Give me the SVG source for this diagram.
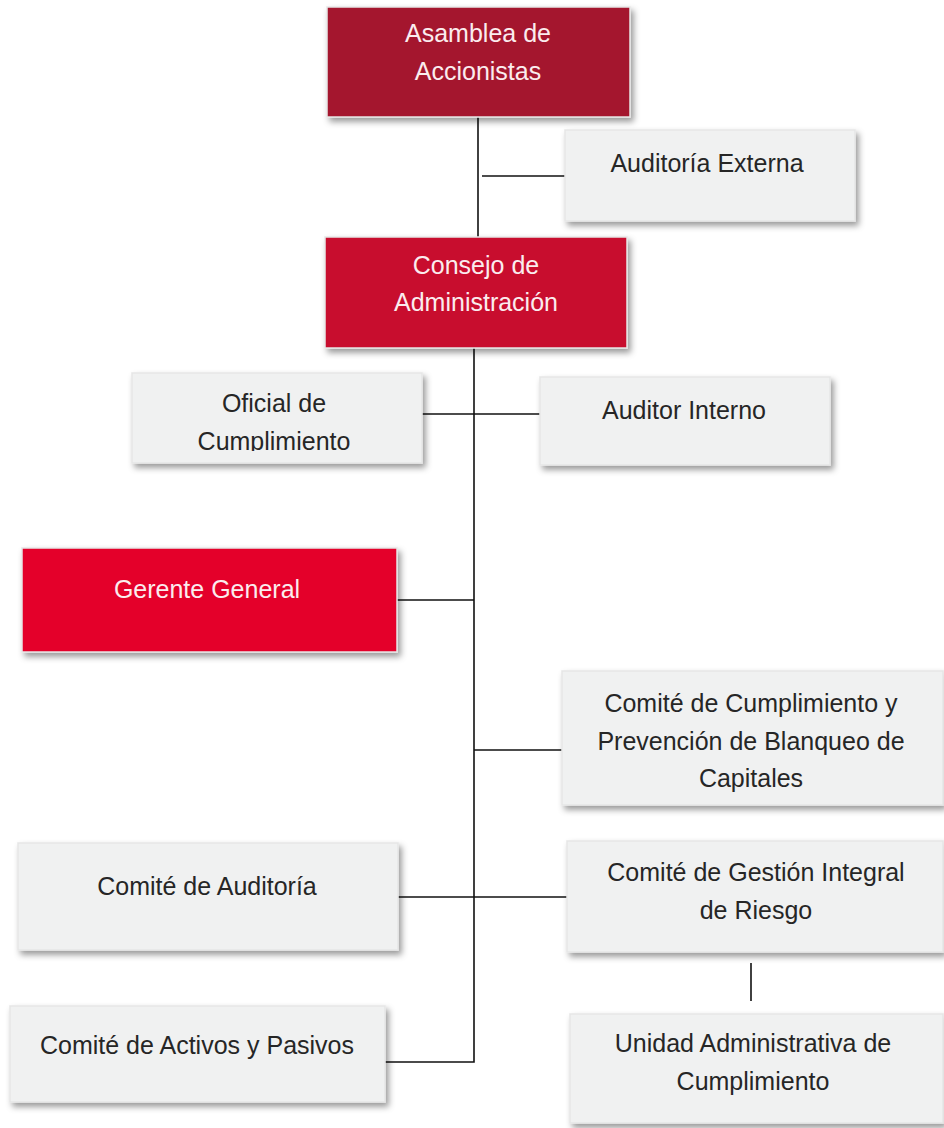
<svg xmlns="http://www.w3.org/2000/svg" width="944" height="1128" viewBox="0 0 944 1128">
<defs>
<filter id="sh" x="-10%" y="-10%" width="130%" height="140%">
<feDropShadow dx="3" dy="4" stdDeviation="3" flood-color="#000" flood-opacity="0.4"/>
</filter>
<clipPath id="clipOf"><rect x="132" y="373" width="290" height="78"/></clipPath>
<style>
.box{filter:url(#sh);stroke:#e6e6e6;stroke-width:1.5}
.grey{fill:#f0f1f1}
.r1{fill:#a4182f}
.r2{fill:#c8102e}
.r3{fill:#e4002b}
text{font-family:"Liberation Sans",Arial,sans-serif;font-size:25px;text-anchor:middle;dominant-baseline:central}
.dk{fill:#262626}
.wh{fill:#fbecee}
.ln{stroke:#111;stroke-width:1.6;fill:none}
</style>
</defs>
<g id="connectors">
<line class="ln" x1="478" y1="117" x2="478" y2="237"/>
<line class="ln" x1="482" y1="176" x2="565" y2="176"/>
<polyline class="ln" points="474,348 474,1062 385,1062"/>
<line class="ln" x1="422" y1="414" x2="540" y2="414"/>
<line class="ln" x1="397" y1="600" x2="474" y2="600"/>
<line class="ln" x1="474" y1="750" x2="562" y2="750"/>
<line class="ln" x1="398" y1="897" x2="567" y2="897"/>
<line class="ln" x1="751" y1="963" x2="751" y2="1001"/>
</g>
<g id="asamblea">
<rect class="box r1" x="327" y="7" width="303" height="110"/>
<text class="wh" x="478" y="33">Asamblea de</text>
<text class="wh" x="478" y="71">Accionistas</text>
</g>
<g id="auditoria-externa">
<rect class="box grey" x="565" y="130" width="290" height="91"/>
<text class="dk" x="707" y="163">Auditoría Externa</text>
</g>
<g id="consejo">
<rect class="box r2" x="325" y="237" width="302" height="111"/>
<text class="wh" x="476" y="265">Consejo de</text>
<text class="wh" x="476" y="302">Administración</text>
</g>
<g id="oficial">
<rect class="box grey" x="132" y="373" width="290" height="90"/>
<g clip-path="url(#clipOf)">
<text class="dk" x="274" y="403">Oficial de</text>
<text class="dk" x="274" y="441">Cumplimiento</text>
</g>
</g>
<g id="auditor-interno">
<rect class="box grey" x="540" y="377" width="290" height="88"/>
<text class="dk" x="684" y="410">Auditor Interno</text>
</g>
<g id="gerente">
<rect class="box r3" x="22" y="548" width="375" height="104"/>
<text class="wh" x="207" y="589">Gerente General</text>
</g>
<g id="comite-cumplimiento">
<rect class="box grey" x="562" y="671" width="381" height="134"/>
<text class="dk" x="751" y="703">Comité de Cumplimiento y</text>
<text class="dk" x="751" y="741">Prevención de Blanqueo de</text>
<text class="dk" x="751" y="778">Capitales</text>
</g>
<g id="comite-auditoria">
<rect class="box grey" x="18" y="843" width="380" height="107"/>
<text class="dk" x="207" y="886">Comité de Auditoría</text>
</g>
<g id="comite-riesgo">
<rect class="box grey" x="567" y="841" width="376" height="111"/>
<text class="dk" x="756" y="872">Comité de Gestión Integral</text>
<text class="dk" x="756" y="910">de Riesgo</text>
</g>
<g id="comite-activos">
<rect class="box grey" x="10" y="1006" width="375" height="96"/>
<text class="dk" x="197" y="1045">Comité de Activos y Pasivos</text>
</g>
<g id="unidad">
<rect class="box grey" x="570" y="1014" width="373" height="109"/>
<text class="dk" x="753" y="1043">Unidad Administrativa de</text>
<text class="dk" x="753" y="1081">Cumplimiento</text>
</g>
</svg>
